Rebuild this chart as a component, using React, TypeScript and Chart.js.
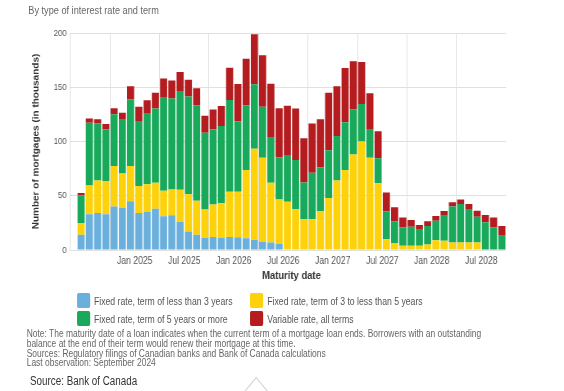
import React, { useEffect, useRef } from "react";
import { Chart, registerables } from "chart.js";

Chart.register(...registerables);

const categories = [
  "Sep 2024", "Oct 2024", "Nov 2024", "Dec 2024",
  "Jan 2025", "Feb 2025", "Mar 2025", "Apr 2025", "May 2025", "Jun 2025",
  "Jul 2025", "Aug 2025", "Sep 2025", "Oct 2025", "Nov 2025", "Dec 2025",
  "Jan 2026", "Feb 2026", "Mar 2026", "Apr 2026", "May 2026", "Jun 2026",
  "Jul 2026", "Aug 2026", "Sep 2026", "Oct 2026", "Nov 2026", "Dec 2026",
  "Jan 2027", "Feb 2027", "Mar 2027", "Apr 2027", "May 2027", "Jun 2027",
  "Jul 2027", "Aug 2027", "Sep 2027", "Oct 2027", "Nov 2027", "Dec 2027",
  "Jan 2028", "Feb 2028", "Mar 2028", "Apr 2028", "May 2028", "Jun 2028",
  "Jul 2028", "Aug 2028", "Sep 2028", "Oct 2028", "Nov 2028", "Dec 2028",
];

const tickLabels = [
  "Jan 2025", "Jul 2025", "Jan 2026", "Jul 2026",
  "Jan 2027", "Jul 2027", "Jan 2028", "Jul 2028",
];

const fixedLess3 = [
  14, 33, 34, 33, 40, 39, 45, 34, 35, 38, 31, 32, 26, 17, 14, 11.4, 12, 11.4,
  12, 11.7, 10.8, 9.2, 7.7, 7, 5.5, 0, 0, 0, 0, 0, 0, 0, 0, 0, 0, 0, 0, 0, 0,
  0, 0, 0, 0, 0, 0, 0, 0, 0, 0, 0, 0, 0,
];

const fixed3to5 = [
  11, 26.4, 30, 30.7, 37.5, 31.4, 32.5, 25, 25.5, 24, 23.7, 23.7, 29.5, 34.4,
  31.4, 26, 30, 31.6, 41.8, 42, 63, 84.2, 77.4, 55, 41, 44.5, 37.5, 28.3, 28.3,
  36, 48, 64, 73.7, 88, 100, 85, 61.5, 10, 6.5, 4, 4, 4, 5, 9, 8.6, 7, 7, 7, 7,
  0, 0, 0,
];

const fixed5plus = [
  25.5, 57.8, 52.5, 47.6, 47.6, 49.7, 61.5, 60, 65, 68.5, 86.3, 84, 91, 90, 88,
  70.6, 69, 71.3, 84.5, 65, 59.6, 59.3, 47, 41.4, 39, 43, 45.5, 33.8, 43, 40, 44,
  41, 44, 41.4, 34.5, 26.5, 23, 25.5, 20, 17, 17.5, 15.4, 17.2, 18, 23, 33, 35.3,
  30.7, 23.6, 25.5, 21, 13.8,
];

const variableAll = [
  2, 3.9, 4, 4.9, 5.6, 6.5, 12, 13, 12.6, 14.4, 17, 16.6, 17.6, 15.4, 15.7,
  15.7, 18.4, 18.4, 29.7, 34.4, 42.8, 46.1, 47.3, 49.8, 45.2, 45.4, 47.3, 40.8,
  45.4, 44.5, 53, 46, 50, 44.6, 38.7, 33, 25, 17.6, 13, 9, 6.2, 3.7, 4.3, 4.3,
  4.3, 4, 4.3, 4.6, 5.5, 6.8, 9, 8.3,
];

const seriesNames = [
  "Fixed rate, term of less than 3 years",
  "Fixed rate, term of 3 to less than 5 years",
  "Fixed rate, term of 5 years or more",
  "Variable rate, all terms",
];

const COLORS = ["#6BB0DC", "#FDD20A", "#18A95B", "#B41C1F"];
const FONT = "'Liberation Sans', Arial, sans-serif";
const GRID = "#e0e0e0";
// the whole figure is drawn in a wider box and squeezed horizontally (condensed look)
const SQUEEZE = 0.8198;
const W = 688;

const leftEdgePlugin = {
  id: "leftEdge",
  beforeDatasetsDraw(chart: any) {
    const { ctx, chartArea } = chart;
    const x = Math.round(chartArea.left - 9.1) + 0.5;
    ctx.save();
    ctx.strokeStyle = GRID;
    ctx.lineWidth = 1;
    ctx.beginPath();
    ctx.moveTo(x, chartArea.top);
    ctx.lineTo(x, chartArea.bottom);
    ctx.stroke();
    ctx.restore();
  },
};

function ChartCanvas() {
  const ref = useRef<HTMLCanvasElement | null>(null);
  useEffect(() => {
    if (!ref.current) return;
    const seriesData = [fixedLess3, fixed3to5, fixed5plus, variableAll];
    const chart = new Chart(ref.current, {
      type: "bar",
      data: {
        labels: categories,
        datasets: seriesData.map((d, i) => ({
          label: seriesNames[i],
          data: d,
          backgroundColor: COLORS[i],
          borderWidth: 0,
          categoryPercentage: 1,
          barPercentage: 0.86,
        })),
      },
      options: {
        animation: false,
        responsive: false,
        devicePixelRatio: 1,
        layout: { padding: { left: 34.5, top: 33, right: 70.8, bottom: 0 } },
        plugins: { legend: { display: false }, tooltip: { enabled: false } },
        scales: {
          x: {
            stacked: true,
            afterFit(scale: any) {
              scale.height = 35;
            },
            border: { display: false },
            grid: {
              drawTicks: false,
              color: (ctx: any) => {
                const i = ctx.index;
                if (i === categories.length) return GRID;
                const lab = categories[i];
                if (lab && i > 0 && (lab.startsWith("Jan") || lab.startsWith("Jul"))) return GRID;
                return "rgba(0,0,0,0)";
              },
            },
            ticks: {
              autoSkip: false,
              maxRotation: 0,
              minRotation: 0,
              padding: 5,
              labelOffset: -5.03,
              color: "#555",
              font: { family: FONT, size: 10.5 },
              callback: (_v: any, index: number) => {
                const start = categories[index - 3];
                return index >= 3 && tickLabels.includes(start) ? start : "";
              },
            },
            title: {
              display: true,
              text: "Maturity date",
              color: "#333",
              font: { family: FONT, size: 11.5, weight: "bold" },
              padding: { top: 2, bottom: 2 },
            },
          },
          y: {
            stacked: true,
            min: 0,
            max: 200,
            afterFit(scale: any) {
              scale.width = 59.4;
            },
            border: { display: false },
            grid: { color: GRID, tickColor: GRID, drawTicks: true, tickLength: 9.1 },
            ticks: {
              stepSize: 50,
              padding: 3.4,
              color: "#555",
              font: { family: FONT, size: 9.5 },
            },
            title: {
              display: true,
              text: "Number of mortgages (in thousands)",
              color: "#333",
              font: { family: FONT, size: 10, weight: "bold" },
              padding: 4,
            },
          },
        },
      },
      plugins: [leftEdgePlugin],
    } as any);
    return () => chart.destroy();
  }, []);
  return (
    <canvas
      ref={ref}
      width={W}
      height={285}
      style={{ position: "absolute", left: 0, top: 0, width: W, height: 285 }}
    />
  );
}

function LegendItem({ color, text, x, y }: { color: string; text: string; x: number; y: number }) {
  return (
    <div style={{ position: "absolute", left: x, top: y, height: 15, display: "flex", alignItems: "center" }}>
      <div style={{ width: 16, height: 15, background: color, borderRadius: 2, marginRight: 5 }} />
      <span style={{ fontSize: 10.6, color: "#555", whiteSpace: "nowrap" }}>{text}</span>
    </div>
  );
}

export default function App() {
  return (
    <div style={{ position: "absolute", left: 0, top: 0, width: 564, height: 391, overflow: "hidden", background: "#fff" }}>
      <div
        style={{
          position: "absolute",
          left: 0,
          top: 0,
          width: W,
          height: 391,
          transform: `scaleX(${SQUEEZE})`,
          transformOrigin: "0 0",
          fontFamily: FONT,
        }}
      >
        <div style={{ position: "absolute", left: 34.5, top: 4, fontSize: 11.2, lineHeight: "13px", color: "#666", whiteSpace: "nowrap" }}>
          By type of interest rate and term
        </div>
        <ChartCanvas />
        <LegendItem color={COLORS[0]} text={seriesNames[0]} x={93.6} y={293} />
        <LegendItem color={COLORS[1]} text={seriesNames[1]} x={305} y={293} />
        <LegendItem color={COLORS[2]} text={seriesNames[2]} x={93.6} y={311} />
        <LegendItem color={COLORS[3]} text={seriesNames[3]} x={305} y={311} />
        <div style={{ position: "absolute", left: 32.6, top: 329, fontSize: 10.3, lineHeight: "9.8px", color: "#666", whiteSpace: "nowrap" }}>
          Note: The maturity date of a loan indicates when the current term of a mortgage loan ends. Borrowers with an outstanding
          <br />
          balance at the end of their term would renew their mortgage at this time.
          <br />
          Sources: Regulatory filings of Canadian banks and Bank of Canada calculations
          <br />
          Last observation: September 2024
        </div>
        <div style={{ position: "absolute", left: 36.6, top: 374, fontSize: 12, lineHeight: "15px", color: "#333", whiteSpace: "nowrap" }}>
          Source: Bank of Canada
        </div>
        <div
          style={{
            position: "absolute",
            left: 300,
            top: 382,
            width: 24,
            height: 24,
            borderLeft: "1px solid #ccc",
            borderTop: "1px solid #ccc",
            transform: "rotate(45deg)",
            transformOrigin: "center",
          }}
        />
      </div>
    </div>
  );
}
